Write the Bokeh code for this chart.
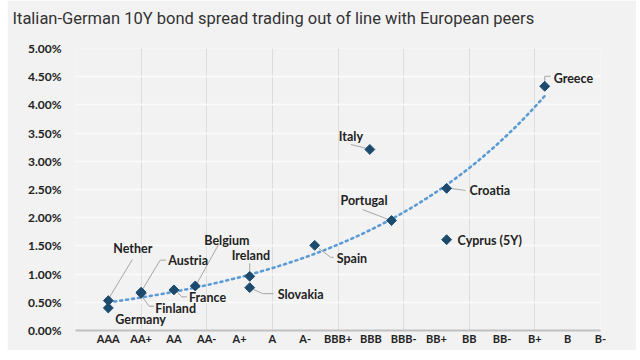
import numpy as np
from bokeh.plotting import figure
from bokeh.models import FixedTicker, PrintfTickFormatter, ColumnDataSource
from bokeh.embed import file_html
from bokeh.resources import INLINE
from bokeh.core.properties import value

# ---- data ----
TITLE = "Italian-German 10Y bond spread trading out of line with European peers"
RATINGS = ["AAA", "AA+", "AA", "AA-", "A+", "A", "A-", "BBB+", "BBB", "BBB-",
           "BB+", "BB", "BB-", "B+", "B", "B-"]
COUNTRIES = ["Nether", "Germany", "Austria", "Finland", "France", "Belgium",
             "Ireland", "Slovakia", "Spain", "Portugal", "Italy", "Croatia",
             "Cyprus (5Y)", "Greece"]
RATING_SCORE = [1.0, 1.0, 2.0, 2.0, 3.0, 3.65, 5.31, 5.31, 7.29, 9.63, 8.97,
                11.31, 11.31, 14.3]
YIELD_PCT = [0.53, 0.40, 0.68, 0.66, 0.72, 0.79, 0.96, 0.76, 1.51, 1.95, 3.21,
             2.52, 1.61, 4.33]
Y_TICKS = [0.0, 0.5, 1.0, 1.5, 2.0, 2.5, 3.0, 3.5, 4.0, 4.5, 5.0]
TREND_EXCLUDE = ["Italy", "Cyprus (5Y)"]

# ---- layout / style ----
LEFT_PAD = 7
FW, FH = 525, 282
BL, BT = 75 - LEFT_PAD, 48
W, H = 636 - LEFT_PAD, 350
XMAX, YMAX = 16, 5
sx = FW / XMAX
sy = FH / YMAX

# label placements: text (dx, dy) in px from the point; leader path offsets in px
LABEL_POS = {
    "Nether": (5, -52), "Germany": (7, 12), "Austria": (27, -32),
    "Finland": (14, 15), "France": (15, 8), "Belgium": (9, -45),
    "Ireland": (-18, -21), "Slovakia": (28, 7), "Spain": (22, 13),
    "Portugal": (-51, -20), "Italy": (-31, -13), "Croatia": (23, 2),
    "Cyprus (5Y)": (11, 1), "Greece": (9, -8),
}
LEADERS = {
    "Nether": [(1, -3), (24, -41)],
    "Austria": [(1, -2), (19, -32), (25, -32)],
    "Finland": [(0, 2), (8, 13), (13, 13)],
    "France": [(3, 2), (8, 7), (13, 7)],
    "Belgium": [(2, -3), (23, -41)],
    "Ireland": [(0, -13), (0, -4)],
    "Slovakia": [(4, 2), (13, 6), (24, 6)],
    "Spain": [(4, 3), (16, 12), (19, 12)],
    "Portugal": [(-29, -11), (-3, -1)],
    "Italy": [(-19, -5), (-3, -1)],
    "Croatia": [(3, 0), (19, 2)],
    "Greece": [(0, -4), (0, -10), (6, -10)],
}

BG = "#f2f2f2"
FONT = "Lato"

p = figure(width=W, height=H, output_backend="svg", toolbar_location=None,
           x_range=(0, XMAX), y_range=(0, YMAX),
           frame_width=FW, frame_height=FH,
           min_border_left=BL, min_border_top=BT,
           min_border_right=W - BL - FW, min_border_bottom=H - BT - FH,
           title=TITLE + "\n ")
p.styles = {"margin-left": f"{LEFT_PAD}px"}
p.background_fill_color = BG
p.border_fill_color = BG
p.outline_line_color = None

p.title.align = "left"
p.title.offset = -(BL - 12 + LEFT_PAD)
p.title.standoff = 4
p.title.text_font = "Roboto"
p.title.text_font_style = "normal"
p.title.text_font_size = "16.5px"
p.title.text_color = "#333333"

# axes
p.xaxis.ticker = FixedTicker(ticks=list(range(1, len(RATINGS) + 1)))
p.xaxis.major_label_overrides = {i + 1: r for i, r in enumerate(RATINGS)}
p.xaxis.major_tick_line_color = None
p.xaxis.minor_tick_line_color = None
p.xaxis.axis_line_color = "#c0c0c0"
p.xaxis.axis_line_width = 2
p.xaxis.major_label_standoff = -5
p.xaxis.major_label_text_font = FONT
p.xaxis.major_label_text_font_style = "bold"
p.xaxis.major_label_text_font_size = "11px"
p.xaxis.major_label_text_color = "#222222"

p.yaxis.ticker = FixedTicker(ticks=Y_TICKS)
p.yaxis.formatter = PrintfTickFormatter(format="%.2f%%")
p.yaxis.major_tick_line_color = None
p.yaxis.minor_tick_line_color = None
p.yaxis.axis_line_color = None
p.yaxis.major_label_standoff = 8
p.yaxis.major_label_text_font = FONT
p.yaxis.major_label_text_font_style = "bold"
p.yaxis.major_label_text_font_size = "12px"
p.yaxis.major_label_text_color = "#222222"

p.xgrid.ticker = FixedTicker(ticks=list(range(0, XMAX + 1, 2)))
p.xgrid.grid_line_color = "#dcdcdc"
p.xgrid.grid_line_width = 1
p.ygrid.grid_line_color = "#fbfbfb"
p.ygrid.grid_line_width = 1.5

# trendline: exponential fit (Excel style) on the peer points
xs = np.array([x for c, x in zip(COUNTRIES, RATING_SCORE) if c not in TREND_EXCLUDE])
ys = np.array([y for c, y in zip(COUNTRIES, YIELD_PCT) if c not in TREND_EXCLUDE])
b, a = np.polyfit(xs, np.log(ys), 1)
tx = np.linspace(min(RATING_SCORE), max(RATING_SCORE), 200)
ty = np.exp(a + b * tx)
p.line(tx, ty, line_color="#5b9bd5", line_width=2.6, line_dash="2 4",
       line_cap="round")

# leader lines
lx, ly = [], []
for c, x, y in zip(COUNTRIES, RATING_SCORE, YIELD_PCT):
    if c in LEADERS:
        lx.append([x + dx / sx for dx, dy in LEADERS[c]])
        ly.append([y - dy / sy for dx, dy in LEADERS[c]])
p.multi_line(lx, ly, line_color="#a6a6a6", line_width=1)

# markers
p.scatter(RATING_SCORE, YIELD_PCT, marker="square", angle=np.pi / 4, size=7,
          fill_color="#1d4b6e", line_color="#1d4b6e")

# point labels
src = ColumnDataSource(dict(
    x=[x + LABEL_POS[c][0] / sx for c, x in zip(COUNTRIES, RATING_SCORE)],
    y=[y - LABEL_POS[c][1] / sy for c, y in zip(COUNTRIES, YIELD_PCT)],
    t=COUNTRIES))
p.text("x", "y", text="t", source=src, text_font=value(FONT),
       text_font_style="bold", text_font_size="12.5px", text_color="#222222",
       text_align="left", text_baseline="middle")

open("out.html", "w").write(file_html(p, INLINE))
